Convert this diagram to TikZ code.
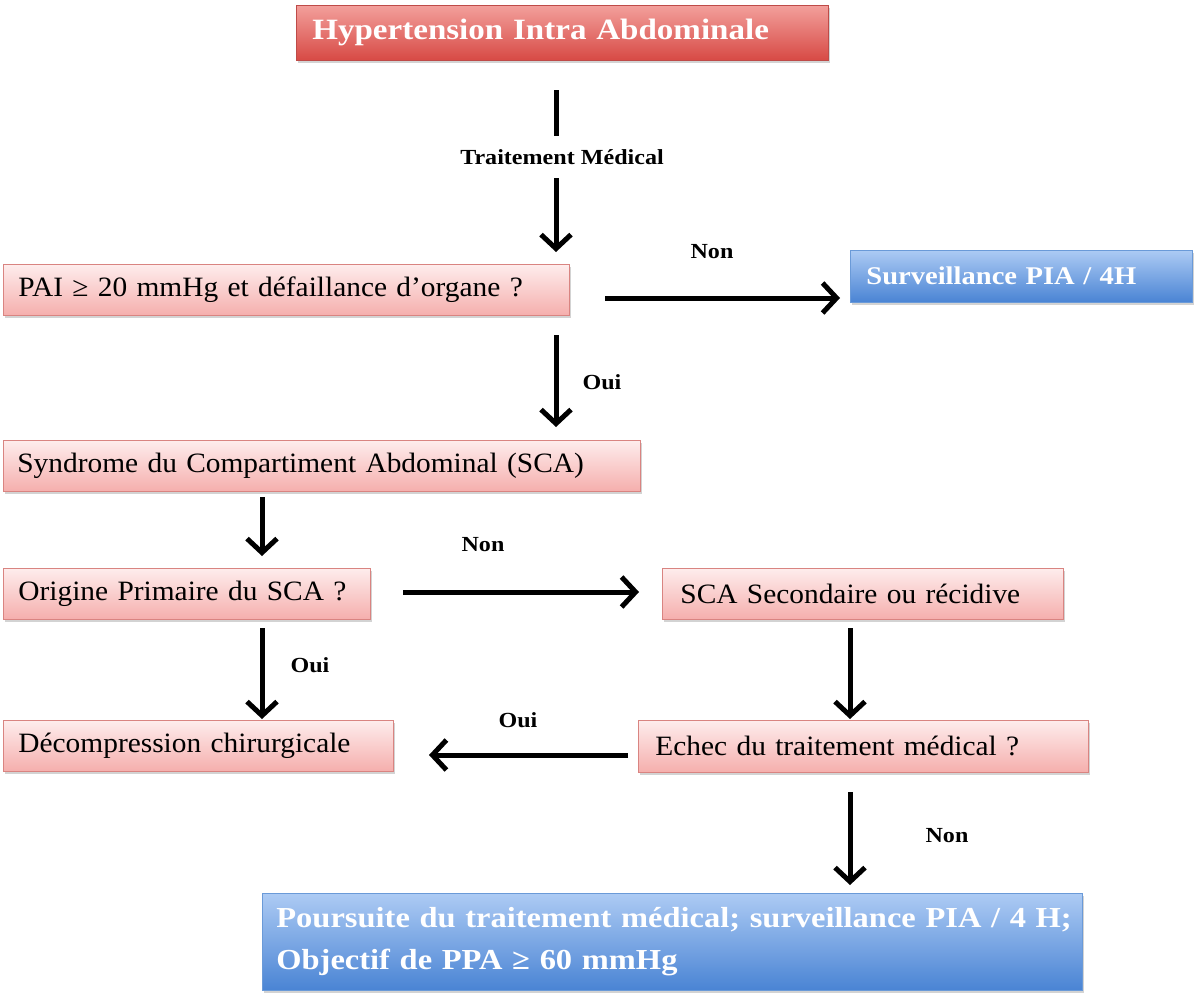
\documentclass[tikz,border=0pt]{standalone}
\usepackage{fontspec}
\setmainfont{Liberation Serif}
\newfontfamily\regf[FakeStretch=1.05]{Liberation Serif}
\newfontfamily\bldf[FakeStretch=1.12]{Liberation Serif}
\usetikzlibrary{arrows.meta,shadows}
\definecolor{redtop}{HTML}{F3A09C}
\definecolor{redbot}{HTML}{D74A45}
\definecolor{redline}{HTML}{BE4B48}
\definecolor{pinktop}{HTML}{FEEDED}
\definecolor{pinkbot}{HTML}{F5AFAD}
\definecolor{pinkline}{HTML}{D98481}
\definecolor{bluetop}{HTML}{ADCBF4}
\definecolor{bluebot}{HTML}{4A84D4}
\definecolor{blueline}{HTML}{6A9AD8}
\begin{document}
\begin{tikzpicture}[x=1pt,y=-1pt,
  basebox/.style={anchor=west, inner ysep=0pt, align=left,
    drop shadow={shadow xshift=2pt, shadow yshift=-3pt, opacity=0.35}},
  redbox/.style={basebox, draw=redline, line width=0.8pt, top color=redtop, bottom color=redbot,
    text=white, font=\bldf\bfseries\fontsize{29.5}{32}\selectfont},
  pinkbox/.style={basebox, draw=pinkline, line width=0.8pt, top color=pinktop, bottom color=pinkbot,
    text=black, font=\regf\fontsize{28}{32}\selectfont},
  bluebox/.style={basebox, draw=blueline, line width=0.8pt, top color=bluetop, bottom color=bluebot,
    text=white, font=\bldf\bfseries\fontsize{25.5}{30}\selectfont},
  lbl/.style={font=\bldf\bfseries\fontsize{21.5}{24}\selectfont, inner sep=0pt},
  conn/.style={line width=5pt},
  arr/.style={line width=5pt, -{Straight Barb[length=14pt,width=30pt]}}
]
\useasboundingbox (0,0) rectangle (1194,993);

% boxes
\node[redbox, inner xsep=16pt, text width=500pt, minimum height=55pt] (hia) at (296,32.5) {\raisebox{-2pt}{Hypertension Intra Abdominale}};
\node[pinkbox, inner xsep=15pt, text width=536pt, minimum height=51pt] (pai) at (3,289.5) {\raisebox{-2pt}{PAI ≥ 20 mmHg et défaillance d’organe ?}};
\node[bluebox, inner xsep=16pt, text width=310pt, minimum height=52pt] (surv) at (850,276) {Surveillance PIA / 4H};
\node[pinkbox, inner xsep=14pt, text width=609pt, minimum height=51pt] (sca) at (3,465.5) {\raisebox{-2pt}{Syndrome du Compartiment Abdominal (SCA)}};
\node[pinkbox, inner xsep=15pt, text width=337pt, minimum height=51pt] (orig) at (3,593.5) {Origine Primaire du SCA ?};
\node[pinkbox, inner xsep=18pt, text width=365pt, minimum height=51pt] (sec) at (662,593.5) {SCA Secondaire ou récidive};
\node[pinkbox, inner xsep=15pt, text width=360pt, minimum height=51pt] (dec) at (3,745.5) {\raisebox{-2pt}{Décompression chirurgicale}};
\node[pinkbox, inner xsep=17pt, text width=416pt, minimum height=52pt] (echec) at (638,746) {Echec du traitement médical ?};
\node[bluebox, inner xsep=14pt, text width=792pt, minimum height=97pt,
  font=\bldf\bfseries\fontsize{29}{42}\selectfont] (pours) at (262,941.5)
  {\raisebox{-8pt}{Poursuite du traitement médical; surveillance PIA / 4 H;}\\\raisebox{-8pt}{Objectif de PPA ≥ 60 mmHg}};

% labels
\node[lbl] (tm) at (562,157) {Traitement Médical};
\node[lbl] (non1) at (712,252) {Non};
\node[lbl] (oui1) at (602,382) {Oui};
\node[lbl] (non2) at (483,545) {Non};
\node[lbl] (oui2) at (310,665) {Oui};
\node[lbl] (oui3) at (518,720) {Oui};
\node[lbl] (non3) at (947,836) {Non};

% connector end points
\coordinate (c1a) at (556,90);   \coordinate (c1b) at (556,136);
\coordinate (c2a) at (556,178);  \coordinate (c2b) at (556,252);
\coordinate (c3a) at (605,298);  \coordinate (c3b) at (840,298);
\coordinate (c4a) at (556,335);  \coordinate (c4b) at (556,427);
\coordinate (c5a) at (262,497);  \coordinate (c5b) at (262,556);
\coordinate (c6a) at (403,592);  \coordinate (c6b) at (639,592);
\coordinate (c7a) at (262,628);  \coordinate (c7b) at (262,719);
\coordinate (c8a) at (850,628);  \coordinate (c8b) at (850,719);
\coordinate (c9a) at (628,755);  \coordinate (c9b) at (429,755);
\coordinate (c10a) at (850,792); \coordinate (c10b) at (850,885);

\draw[conn] (c1a) -- (c1b);
\draw[arr] (c2a) -- (c2b);
\draw[arr] (c3a) -- (c3b);
\draw[arr] (c4a) -- (c4b);
\draw[arr] (c5a) -- (c5b);
\draw[arr] (c6a) -- (c6b);
\draw[arr] (c7a) -- (c7b);
\draw[arr] (c8a) -- (c8b);
\draw[arr] (c9a) -- (c9b);
\draw[arr] (c10a) -- (c10b);
\end{tikzpicture}
\end{document}
